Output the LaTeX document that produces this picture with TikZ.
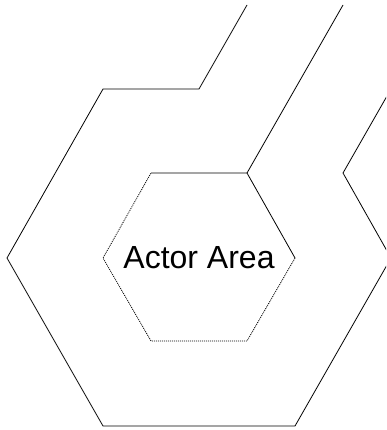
\documentclass[tikz,border=0pt]{standalone}
\usepackage{fontspec}
\setmainfont{Liberation Sans}
\begin{document}
\begin{tikzpicture}[x=1pt,y=-1pt,
  edge/.style={line width=0.8pt,line join=miter},
  dotedge/.style={line width=0.8pt,dash pattern=on 1pt off 1pt}]
\useasboundingbox (0,0) rectangle (386,430);
\clip (0,0) rectangle (386,430);
% outer hexagon and connected lines
\draw[edge] (247,5) -- (199,89) -- (103,89) -- (7,258) -- (103,426) -- (295,426) -- (391,258) -- (343,173) -- (391,89);
\draw[edge] (343,5) -- (247,173);
% inner hexagon
\draw[edge] (151,173) -- (247,173) -- (295,258);
\draw[dotedge] (295,258) -- (247,341) -- (151,341) -- (103,258) -- (151,173);
\node[font=\fontsize{32}{36}\selectfont, inner sep=0pt] (label) at (199,258) {Actor Area};
\end{tikzpicture}
\end{document}
